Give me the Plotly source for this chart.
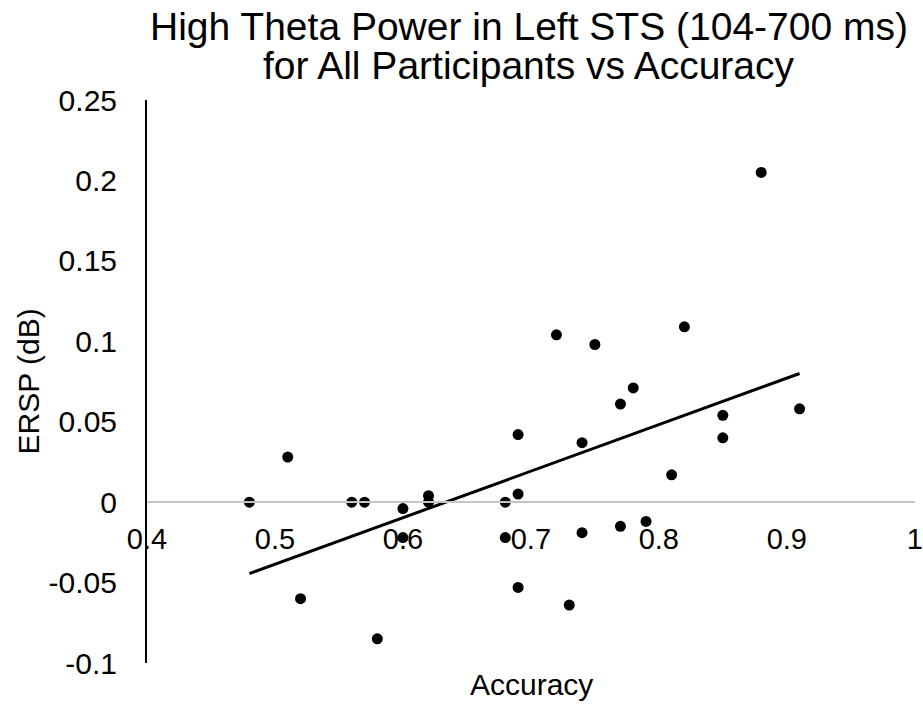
import numpy as np
import plotly.graph_objects as go

# Data
accuracy = [0.48, 0.51, 0.52, 0.56, 0.57, 0.58, 0.60, 0.60, 0.62, 0.62,
            0.68, 0.68, 0.69, 0.69, 0.69, 0.72, 0.73, 0.74, 0.74, 0.75,
            0.77, 0.77, 0.78, 0.79, 0.81, 0.82, 0.85, 0.85, 0.88, 0.91]
ersp_db = [0.000, 0.028, -0.060, 0.000, 0.000, -0.085, -0.004, -0.022, 0.004, 0.000,
           0.000, -0.022, 0.042, 0.005, -0.053, 0.104, -0.064, 0.037, -0.019, 0.098,
           0.061, -0.015, 0.071, -0.012, 0.017, 0.109, 0.054, 0.040, 0.205, 0.058]

y_tick_vals = [-0.1, -0.05, 0, 0.05, 0.1, 0.15, 0.2, 0.25]
y_tick_text = ["-0.1", "-0.05", "0", "0.05", "0.1", "0.15", "0.2", "0.25"]
x_tick_vals = [0.4, 0.5, 0.6, 0.7, 0.8, 0.9, 1.0]
x_tick_text = ["0.4", "0.5", "0.6", "0.7", "0.8", "0.9", "1"]

title_line1 = "High Theta Power in Left STS (104-700 ms)"
title_line2 = "for All Participants vs Accuracy"

# Linear trendline (least squares)
slope, intercept = np.polyfit(accuracy, ersp_db, 1)
trend_x = [min(accuracy), max(accuracy)]
trend_y = [slope * v + intercept for v in trend_x]

FONT = "Liberation Sans, Arial, sans-serif"
x_range = [0.4, 1.0002]
y_range = [-0.1, 0.25]
zero_pos = (0 - y_range[0]) / (y_range[1] - y_range[0])

fig = go.Figure()
fig.add_trace(go.Scatter(
    x=trend_x, y=trend_y, mode="lines",
    line=dict(color="black", width=3), hoverinfo="skip", showlegend=False))
fig.add_trace(go.Scatter(
    x=accuracy, y=ersp_db, mode="markers",
    marker=dict(color="black", size=11, line=dict(width=0)), showlegend=False))

fig.update_layout(
    width=923, height=704,
    margin=dict(l=147, r=8, t=100, b=41, pad=0, autoexpand=False),
    paper_bgcolor="white", plot_bgcolor="white",
    font=dict(family=FONT, color="black", size=30),
    showlegend=False,
    xaxis=dict(
        range=x_range, tickvals=x_tick_vals, ticktext=x_tick_text,
        anchor="free", position=zero_pos, automargin=False,
        showline=True, linecolor="#c6c6c6", linewidth=1.5,
        showgrid=False, zeroline=False, ticks="",
        ticklabelstandoff=11,
        tickfont=dict(family=FONT, size=29, color="black"),
    ),
    yaxis=dict(
        range=y_range, tickvals=y_tick_vals, ticktext=y_tick_text,
        automargin=False,
        showline=True, linecolor="black", linewidth=2,
        showgrid=False, zeroline=False, ticks="",
        ticklabelstandoff=22,
        tickfont=dict(family=FONT, size=30, color="black"),
    ),
    annotations=[
        dict(text=title_line1, xref="paper", yref="paper", x=0.5, y=1,
             xanchor="center", yanchor="middle", yshift=74, xshift=-2, showarrow=False,
             font=dict(family=FONT, size=39, color="black")),
        dict(text=title_line2, xref="paper", yref="paper", x=0.5, y=1,
             xanchor="center", yanchor="middle", yshift=35, xshift=-2, showarrow=False,
             font=dict(family=FONT, size=39, color="black")),
        dict(text="Accuracy", xref="paper", yref="paper", x=0.5, y=0,
             xanchor="center", yanchor="middle", yshift=-21, showarrow=False,
             font=dict(family=FONT, size=30, color="black")),
        dict(text="ERSP (dB)", xref="paper", yref="paper", x=0, y=0.5,
             xanchor="center", yanchor="middle", xshift=-119, textangle=-90,
             showarrow=False, font=dict(family=FONT, size=30, color="black")),
    ],
)

fig.write_html(
    "out.html",
    config={"displayModeBar": False},
    post_script="document.body.style.margin='0';document.body.style.overflow='hidden';",
)
